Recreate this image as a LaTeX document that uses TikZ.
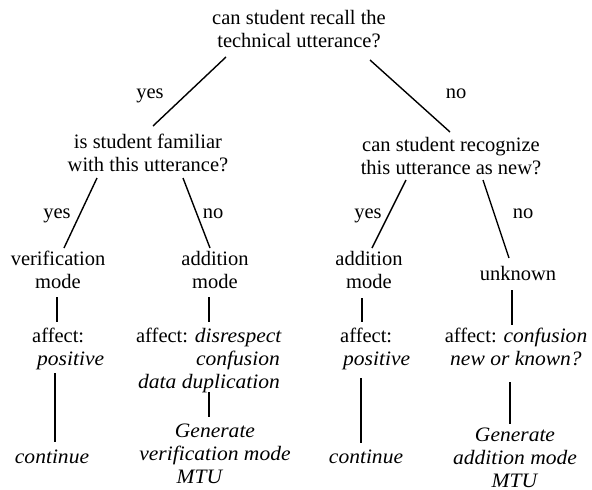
\documentclass[tikz,border=0pt]{standalone}
\usepackage{fontspec}
\setmainfont{Liberation Serif}[ItalicFeatures={FakeStretch=1.05}]
\begin{document}
\begin{tikzpicture}[x=1pt,y=-1pt,
  every node/.style={inner sep=0pt, anchor=base, align=center,
    font=\fontsize{20.5}{23}\selectfont},
  branch/.style={draw, line width=1.4pt}]
\useasboundingbox (0,0) rectangle (592,490);
% questions
\node (recall) at (299,47) {can student recall the\\technical utterance?};
\node (familiar) at (148,171) {is student familiar\\with this utterance?};
\node (recognize) at (451,174) {can student recognize\\this utterance as new?};
% modes
\node (verif) at (58,288) {verification\\mode};
\node (addl) at (215,288) {addition\\mode};
\node (addr) at (369,288) {addition\\mode};
\node (unknown) at (518,280) {unknown};
% affects
\node[anchor=base west, align=left] (aff1) at (32,365) {affect:\\\hspace*{5pt}\textit{positive}};
\node (aff2) at (209,388) {affect: \textit{disrespect}\\\hspace*{58pt}\textit{confusion}\\\textit{data duplication}};
\node[anchor=base west, align=left] (aff3) at (340,365) {affect:\\\hspace*{3pt}\textit{positive}};
\node (aff4) at (516,365) {affect: \textit{confusion}\\\textit{new or known?}};
% results
\node (cont1) at (52,463) {\textit{continue}};
\node (gen1) at (215,483) {\textit{Generate}\\\textit{verification mode}\\\textit{MTU}\hspace*{30pt}};
\node (cont2) at (366,463) {\textit{continue}};
\node (gen2) at (515,487) {\textit{Generate}\\\textit{addition mode}\\\textit{MTU}};
% answers
\node (y1) at (150,98) {yes};
\node (n1) at (456,98) {no};
\node (y2) at (57,218) {yes};
\node (n2) at (213,218) {no};
\node (y3) at (368,218) {yes};
\node (n3) at (523,218) {no};
% branches
\path[branch] ([shift={(-73,10)}]recall.base) -- ([shift={(5,-45)}]familiar.base);
\path[branch] ([shift={(71,13)}]recall.base) -- ([shift={(-1,-42)}]recognize.base);
\path[branch] ([shift={(-51,7)}]familiar.base) -- ([shift={(6,-40)}]verif.base);
\path[branch] ([shift={(35,7)}]familiar.base) -- ([shift={(-5,-40)}]addl.base);
\path[branch] ([shift={(-45,6)}]recognize.base) -- ([shift={(3,-40)}]addr.base);
\path[branch] ([shift={(32,6)}]recognize.base) -- ([shift={(-9,-22)}]unknown.base);
\path[branch] ([shift={(-1,9)}]verif.base) -- ([shift={(25,-43)}]aff1.base west);
\path[branch] ([shift={(23,8)}]aff1.base west) -- ([shift={(3,-21)}]cont1.base);
\path[branch] ([shift={(-6,9)}]addl.base) -- ([shift={(0,-66)}]aff2.base);
\path[branch] ([shift={(0,4)}]aff2.base) -- ([shift={(-6,-66)}]gen1.base);
\path[branch] ([shift={(-7,10)}]addr.base) -- ([shift={(22,-43)}]aff3.base west);
\path[branch] ([shift={(21,13)}]aff3.base west) -- ([shift={(-5,-20)}]cont2.base);
\path[branch] ([shift={(-6,10)}]unknown.base) -- ([shift={(-4,-40)}]aff4.base);
\path[branch] ([shift={(-6,17)}]aff4.base) -- ([shift={(-5,-63)}]gen2.base);
\end{tikzpicture}
\end{document}
